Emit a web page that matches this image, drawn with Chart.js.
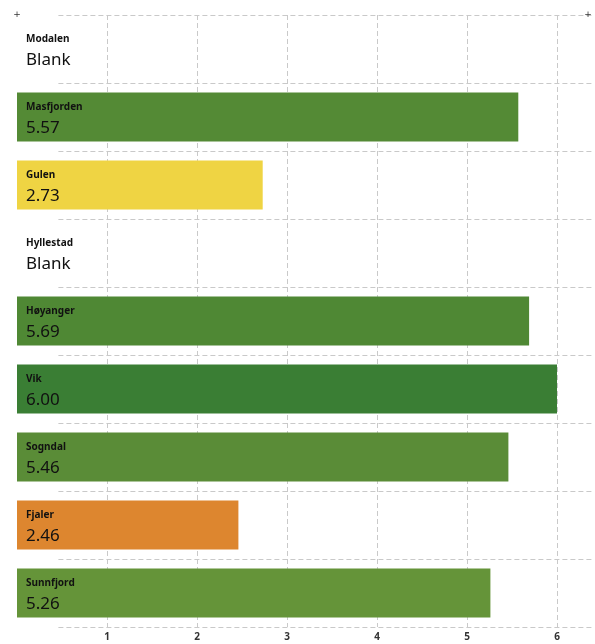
<!DOCTYPE html>
<html>
<head>
<meta charset="utf-8">
<script src="https://cdn.jsdelivr.net/npm/chart.js@4"></script>
<style>
  html, body { margin: 0; padding: 0; background: #fff; }
  #wrap { width: 595px; height: 644px; position: relative; }
</style>
</head>
<body>
<div id="wrap"><canvas id="chart"></canvas></div>
<script>
const municipalities = ['Modalen', 'Masfjorden', 'Gulen', 'Hyllestad', 'Høyanger', 'Vik', 'Sogndal', 'Fjaler', 'Sunnfjord'];
const scores = [null, 5.57, 2.73, null, 5.69, 6.00, 5.46, 2.46, 5.26];
const barColors = ['#ffffff', '#548a35', '#efd443', '#ffffff', '#4f8834', '#3a7e34', '#5a8c37', '#dd862f', '#659439'];
const xTicks = [1, 2, 3, 4, 5, 6];

const gridColor = '#c9c9c9';
const textColor = '#111111';

// labels painted inside each bar + offset horizontal grid + corner marks
const overlay = {
  id: 'overlay',
  beforeDatasetsDraw(chart) {
    const { ctx, chartArea, scales } = chart;
    const band = chartArea.height / municipalities.length;
    const startX = scales.x.getPixelForValue(0.46);
    ctx.save();
    ctx.strokeStyle = gridColor;
    ctx.lineWidth = 1;
    ctx.setLineDash([5, 3]);
    for (let i = 0; i <= municipalities.length; i++) {
      const y = Math.round(chartArea.top + i * band) + 0.5;
      ctx.beginPath();
      ctx.moveTo(startX, y);
      ctx.lineTo(chartArea.right, y);
      ctx.stroke();
    }
    ctx.restore();
  },
  afterDatasetsDraw(chart) {
    const { ctx, chartArea, scales } = chart;
    const x0 = scales.x.getPixelForValue(0) + 9;
    ctx.save();
    ctx.fillStyle = textColor;
    ctx.textBaseline = 'middle';
    ctx.textAlign = 'left';
    municipalities.forEach((name, i) => {
      const yc = scales.y.getPixelForValue(i);
      ctx.font = 'bold 10px "Noto Sans"';
      ctx.fillText(name, x0, yc - 10);
      ctx.font = '17px "Noto Sans"';
      const v = scores[i];
      ctx.fillText(v === null ? 'Blank' : v.toFixed(2), x0, yc + 11);
    });
    ctx.font = '9px "DejaVu Sans"';
    ctx.textAlign = 'center';
    ctx.fillStyle = '#333';
    ctx.fillText('+', scales.x.getPixelForValue(0), chartArea.top);
    ctx.fillText('+', chartArea.right - 5, chartArea.top);
    ctx.restore();
  }
};

new Chart(document.getElementById('chart'), {
  type: 'bar',
  data: {
    labels: municipalities,
    datasets: [{
      data: scores,
      backgroundColor: barColors,
      barPercentage: 0.72,
      categoryPercentage: 1
    }]
  },
  options: {
    indexAxis: 'y',
    responsive: true,
    maintainAspectRatio: false,
    animation: false,
    layout: { padding: { left: 17, right: 2, top: 15, bottom: 0 } },
    plugins: { legend: { display: false }, tooltip: { enabled: false } },
    scales: {
      x: {
        min: 0,
        max: 6.4,
        border: { display: false, dash: [5, 3] },
        afterBuildTicks: (scale) => {
          scale.ticks = xTicks.map((value) => ({ value }));
        },
        afterFit: (scale) => { scale.height = 17; },
        grid: {
          color: gridColor,
          drawTicks: false
        },
        ticks: {
          padding: 4,
          color: '#333',
          font: { family: 'Noto Sans', size: 10, weight: 'bold' }
        }
      },
      y: {
        display: false,
        grid: { display: false }
      }
    }
  },
  plugins: [overlay]
});
</script>
</body>
</html>
